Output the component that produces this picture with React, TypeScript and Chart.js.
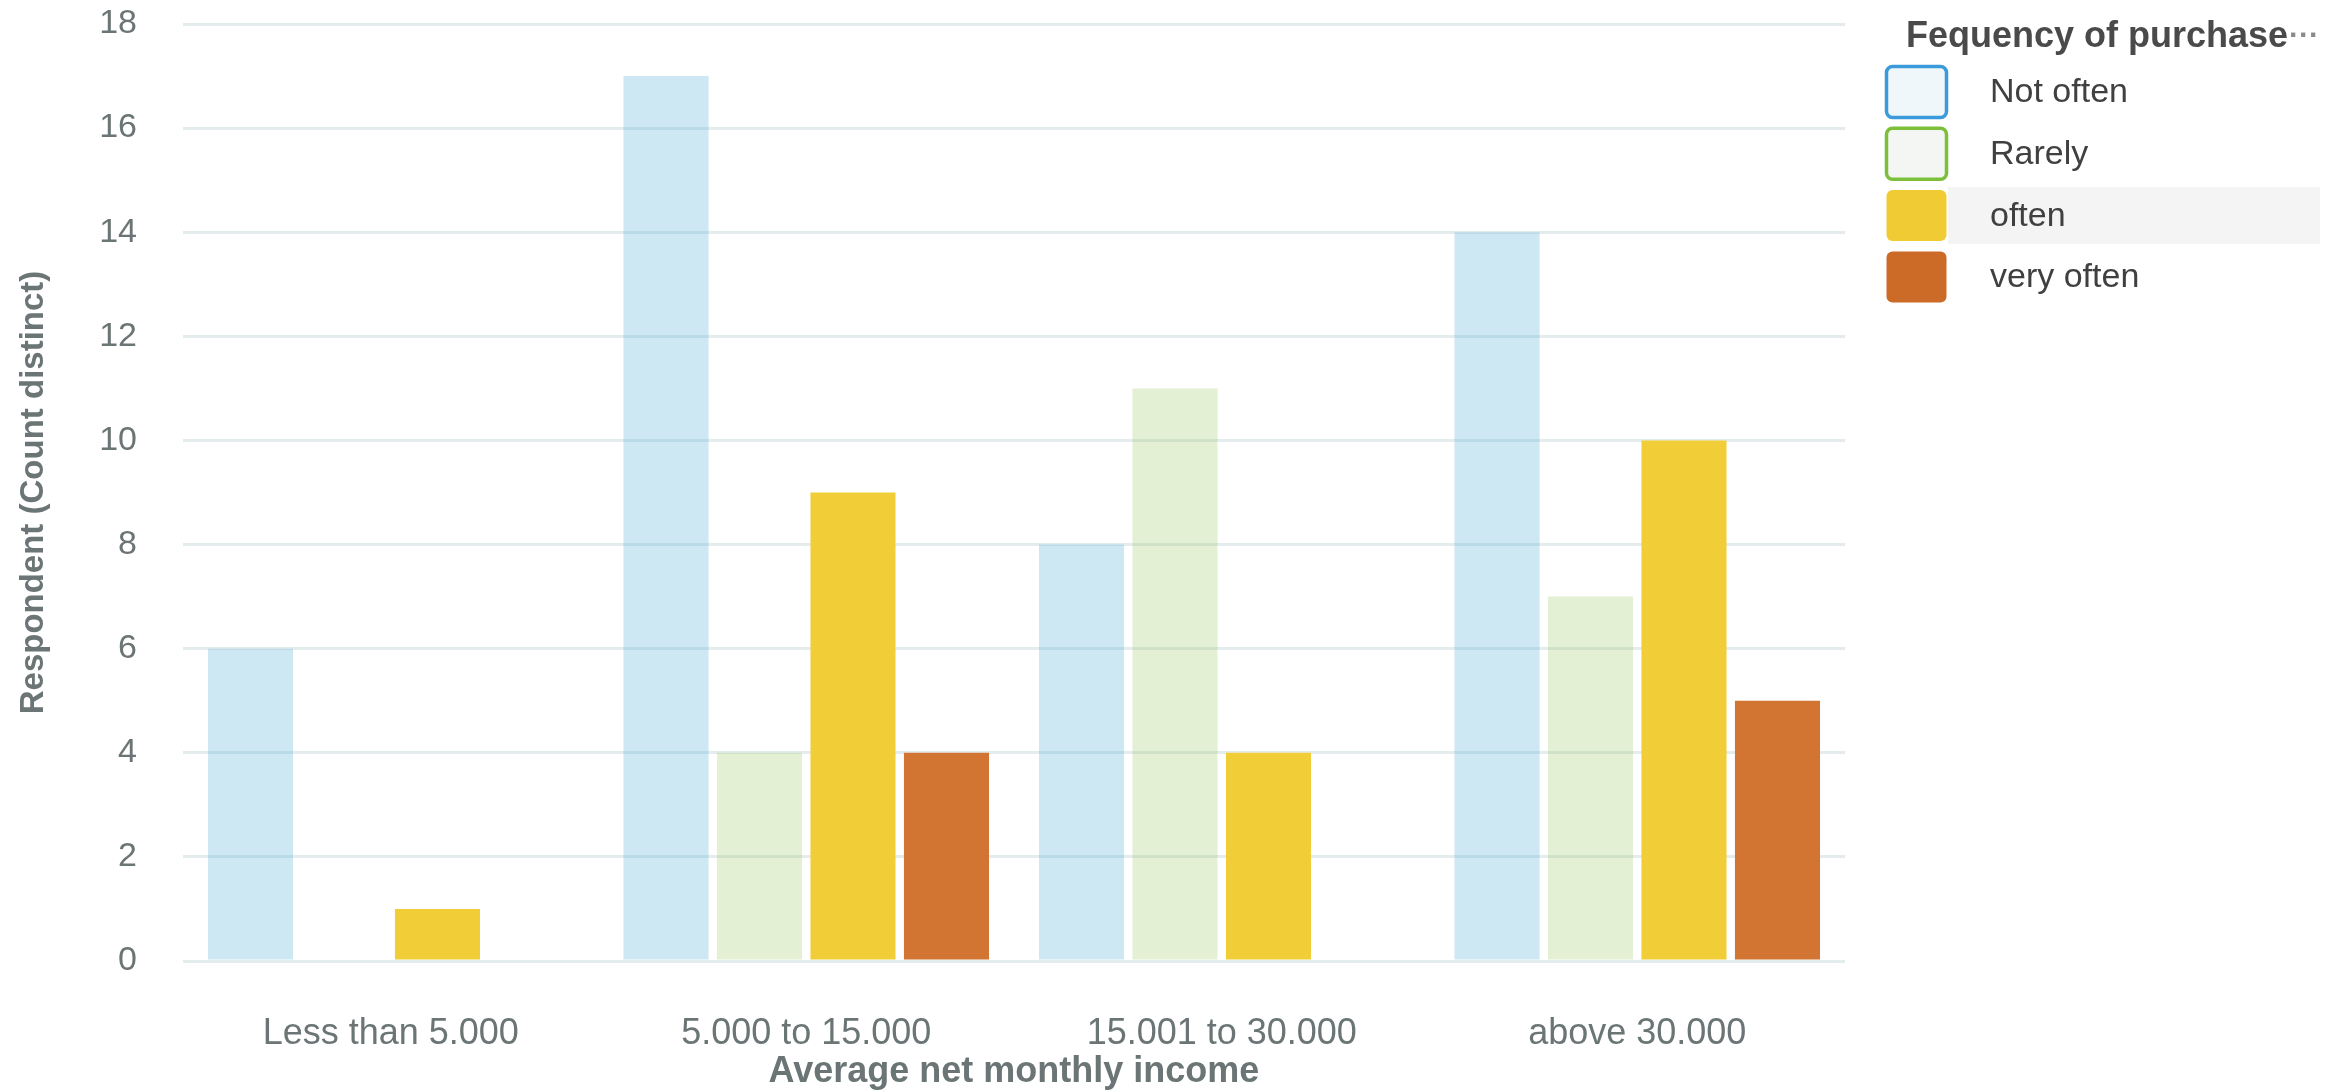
import React, { useEffect, useRef } from "react";
import { Chart, registerables } from "chart.js";

Chart.register(...registerables);

const FONT = '"Liberation Sans", Arial, Helvetica, sans-serif';

const categories = ["Less than 5.000", "5.000 to 15.000", "15.001 to 30.000", "above 30.000"];
const seriesNames = ["Not often", "Rarely", "often", "very often"];
const notOften = [6, 17, 8, 14];
const rarely = [0, 4, 11, 7];
const often = [1, 9, 4, 10];
const veryOften = [0, 4, 0, 5];
const yMin = 0;
const yMax = 18;
const yStep = 2;
const xTitle = "Average net monthly income";
const yTitle = "Respondent (Count distinct)";
const legendTitle = "Fequency of purchase";

const barColors = [
  "rgba(60,165,210,0.26)",
  "rgba(147,197,90,0.26)",
  "rgb(241,205,56)",
  "rgb(210,117,50)",
];
const legendFill = ["#eff7fb", "#f4f6f3", "#f1cb33", "#cc6a27"];
const legendBorder = ["#3b9ad9", "#7cbf3a", null, null];
const TICK_COLOR = "#6b7575";

const legendPlugin = {
  id: "customLegend",
  afterDraw(chart: any) {
    const ctx = chart.ctx as CanvasRenderingContext2D;
    ctx.save();
    // highlighted (hovered) row
    ctx.fillStyle = "#f4f4f4";
    ctx.fillRect(1948, 187, 372, 57);
    // title
    ctx.font = `bold 36px ${FONT}`;
    ctx.fillStyle = "#4a4a4a";
    ctx.textAlign = "left";
    ctx.textBaseline = "alphabetic";
    ctx.fillText(legendTitle, 1906, 47);
    const tw = ctx.measureText(legendTitle).width;
    ctx.font = `bold 30px ${FONT}`;
    ctx.fillStyle = "#8a8a8a";
    ctx.fillText("···", 1906 + tw + 1, 45);
    chart.data.datasets.forEach((ds: any, i: number) => {
      const top = 65 + i * 61.7;
      const x = 1885;
      const w = 63;
      const h = 54;
      ctx.beginPath();
      (ctx as any).roundRect(x + 1.5, top + 1.5, w - 3, h - 3, 6);
      ctx.fillStyle = legendFill[i];
      ctx.fill();
      if (legendBorder[i]) {
        ctx.lineWidth = 3.5;
        ctx.strokeStyle = legendBorder[i] as string;
        ctx.stroke();
      }
      ctx.font = `34px ${FONT}`;
      ctx.fillStyle = "#404040";
      ctx.textBaseline = "middle";
      ctx.fillText(ds.label, 1990, top + h / 2 + 1);
    });
    ctx.restore();
  },
};

export default function App() {
  const ref = useRef<HTMLCanvasElement | null>(null);
  useEffect(() => {
    if (!ref.current) return;
    const series = [notOften, rarely, often, veryOften];
    const chart = new Chart(ref.current, {
      type: "bar",
      data: {
        labels: categories,
        datasets: series.map((d, i) => ({
          label: seriesNames[i],
          data: d,
          backgroundColor: barColors[i],
          borderWidth: 0,
          categoryPercentage: 0.9,
          barPercentage: 0.91,
        })),
      },
      options: {
        animation: false,
        responsive: false,
        maintainAspectRatio: false,
        layout: { padding: { top: 24, right: 501, bottom: 0, left: 0 } },
        plugins: {
          legend: { display: false },
          tooltip: { enabled: false },
        },
        scales: {
          x: {
            grid: { display: false },
            border: { display: false },
            ticks: {
              font: { family: FONT, size: 36 },
              color: TICK_COLOR,
              padding: 43,
              maxRotation: 0,
              autoSkip: false,
            },
            title: {
              display: true,
              text: xTitle,
              font: { family: FONT, size: 36, weight: "bold", lineHeight: 1.1 },
              color: TICK_COLOR,
              padding: { top: 0, bottom: -1 },
            },
            afterFit: (s: any) => {
              s.height = 130;
              s.paddingLeft = 0;
              s.paddingRight = 0;
            },
          },
          y: {
            min: yMin,
            max: yMax,
            grid: { color: "rgb(229,236,238)", lineWidth: 3, drawTicks: false },
            border: { display: false },
            ticks: {
              stepSize: yStep,
              font: { family: FONT, size: 34 },
              color: TICK_COLOR,
              padding: 46,
            },
            title: {
              display: true,
              text: yTitle,
              font: { family: FONT, size: 33, weight: "bold", lineHeight: 1.2 },
              color: TICK_COLOR,
              padding: { top: 14, bottom: 0 },
            },
            afterFit: (s: any) => {
              s.width = 183;
              s.paddingTop = 0;
              s.paddingBottom = 0;
            },
          },
        },
      },
      plugins: [legendPlugin],
    });
    return () => chart.destroy();
  }, []);
  return (
    <div style={{ position: "absolute", left: 0, top: 0, width: 2346, height: 1091, background: "#fff" }}>
      <canvas ref={ref} width={2346} height={1091} style={{ width: 2346, height: 1091, display: "block" }} />
    </div>
  );
}
